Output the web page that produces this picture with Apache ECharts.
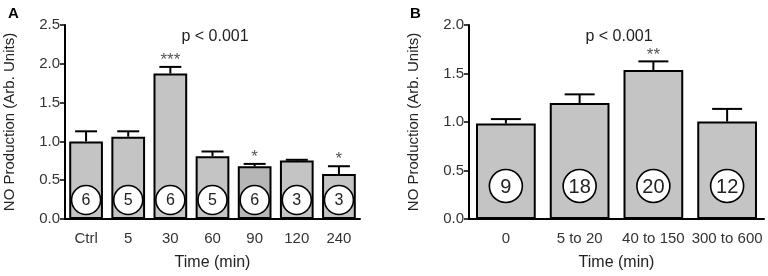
<!DOCTYPE html>
<html>
<head>
<meta charset="utf-8">
<script src="https://cdn.jsdelivr.net/npm/echarts@6/dist/echarts.min.js"></script>
<style>
  html, body { margin: 0; padding: 0; background: #fff; }
  #main { width: 768px; height: 276px; }
</style>
</head>
<body>
<div id="main"></div>
<script>
// panel A
const catsA = ['Ctrl', '5', '30', '60', '90', '120', '240'];
const meanA = [1.00, 1.06, 1.875, 0.81, 0.68, 0.755, 0.58];
const semA  = [0.13, 0.07, 0.085, 0.06, 0.03, 0.008, 0.10];
const nA    = [6, 5, 6, 5, 6, 3, 3];
const starsA = ['', '', '***', '', '*', '', '*'];

// panel B
const catsB = ['0', '5 to 20', '40 to 150', '300 to 600'];
const meanB = [0.985, 1.195, 1.535, 1.005];
const semB  = [0.045, 0.09, 0.09, 0.13];
const nB    = [9, 18, 20, 12];
const starsB = ['', '', '**', ''];

const font = 'Liberation Sans, Arial, sans-serif';
const txt = '#222';

const chart = echarts.init(document.getElementById('main'));

function errSeries(idx, means, sems, stars, capW) {
  return {
    type: 'custom',
    xAxisIndex: idx, yAxisIndex: idx,
    z: 5,
    data: means.map((m, i) => [i, m, sems[i], stars[i]]),
    renderItem: function (params, api) {
      const i = api.value(0);
      const base = api.coord([i, api.value(1)]);
      const top = api.coord([i, api.value(1) + api.value(2)]);
      const children = [
        { type: 'line', shape: { x1: base[0], y1: base[1], x2: top[0], y2: top[1] }, style: { stroke: '#000', lineWidth: 2 } },
        { type: 'line', shape: { x1: top[0] - capW / 2, y1: top[1], x2: top[0] + capW / 2, y2: top[1] }, style: { stroke: '#000', lineWidth: 2 } }
      ];
      const s = api.value(3);
      if (s) {
        children.push({ type: 'text', x: top[0], y: top[1] + 2,
          style: { text: s, fill: '#555', font: '17px ' + font, align: 'center', verticalAlign: 'bottom' } });
      }
      return { type: 'group', children: children };
    }
  };
}

function nSeries(idx, ns, r, lift, fs) {
  return {
    type: 'custom',
    xAxisIndex: idx, yAxisIndex: idx,
    z: 6,
    data: ns.map((n, i) => [i, n]),
    renderItem: function (params, api) {
      const p = api.coord([api.value(0), 0]);
      const cy = p[1] - lift;
      return { type: 'group', children: [
        { type: 'circle', shape: { cx: p[0], cy: cy, r: r }, style: { fill: '#fff', stroke: '#000', lineWidth: 1.6 } },
        { type: 'text', x: p[0], y: cy + 1, style: { text: String(api.value(1)), fill: txt, font: fs + 'px ' + font, align: 'center', verticalAlign: 'middle' } }
      ] };
    }
  };
}

const yAxisBase = (max) => ({
  type: 'value', min: 0, max: max, interval: 0.5,
  name: 'NO Production (Arb. Units)', nameLocation: 'middle', nameGap: 48,
  nameTextStyle: { fontFamily: font, fontSize: 15, color: txt },
  axisLine: { show: true, lineStyle: { color: '#000', width: 2 } },
  axisTick: { show: true, length: 5, lineStyle: { color: '#000', width: 1.5 } },
  axisLabel: { fontFamily: font, fontSize: 15, color: '#333', margin: 5, formatter: v => v.toFixed(1) },
  splitLine: { show: false }
});

const xAxisBase = (idx, cats) => ({
  type: 'category', gridIndex: idx, data: cats,
  name: 'Time (min)', nameLocation: 'middle', nameGap: 36,
  nameTextStyle: { fontFamily: font, fontSize: 16, color: txt },
  axisLine: { lineStyle: { color: '#000', width: 2 } },
  axisTick: { alignWithLabel: true, length: 5, lineStyle: { color: '#000', width: 1.5 } },
  axisLabel: { fontFamily: font, fontSize: 15, color: '#333', margin: 12, interval: 0 }
});

const option = {
  animation: false,
  backgroundColor: '#fff',
  title: [
    { text: 'A', left: 3, top: 1, textStyle: { fontFamily: font, fontSize: 15, fontWeight: 'bold', color: '#000' } },
    { text: 'B', left: 405, top: 1, textStyle: { fontFamily: font, fontSize: 15, fontWeight: 'bold', color: '#000' } },
    { text: 'p < 0.001', left: 210, top: 24, textAlign: 'center', textStyle: { fontFamily: font, fontSize: 16, fontWeight: 'normal', color: txt } },
    { text: 'p < 0.001', left: 614, top: 24, textAlign: 'center', textStyle: { fontFamily: font, fontSize: 16, fontWeight: 'normal', color: txt } }
  ],
  grid: [
    { left: 65, right: 408, top: 25, bottom: 55 },
    { left: 469, right: 4, top: 25, bottom: 55 }
  ],
  xAxis: [xAxisBase(0, catsA), xAxisBase(1, catsB)],
  yAxis: [Object.assign(yAxisBase(2.5), { gridIndex: 0 }), Object.assign(yAxisBase(2.0), { gridIndex: 1 })],
  series: [
    {
      type: 'bar', xAxisIndex: 0, yAxisIndex: 0, barCategoryGap: '20%',
      data: meanA.map((v, i) => ({ value: v, itemStyle: { color: i === 4 ? '#b6b6b6' : '#c4c4c4' } })),
      itemStyle: { color: '#c4c4c4', borderColor: '#000', borderWidth: 2 }
    },
    {
      type: 'bar', xAxisIndex: 1, yAxisIndex: 1, barCategoryGap: '19%',
      data: meanB,
      itemStyle: { color: '#c4c4c4', borderColor: '#000', borderWidth: 2 }
    },
    errSeries(0, meanA, semA, starsA, 22),
    errSeries(1, meanB, semB, starsB, 30),
    nSeries(0, nA, 14.5, 19, 16),
    nSeries(1, nB, 16.5, 33, 20)
  ]
};

chart.setOption(option);
</script>
</body>
</html>
